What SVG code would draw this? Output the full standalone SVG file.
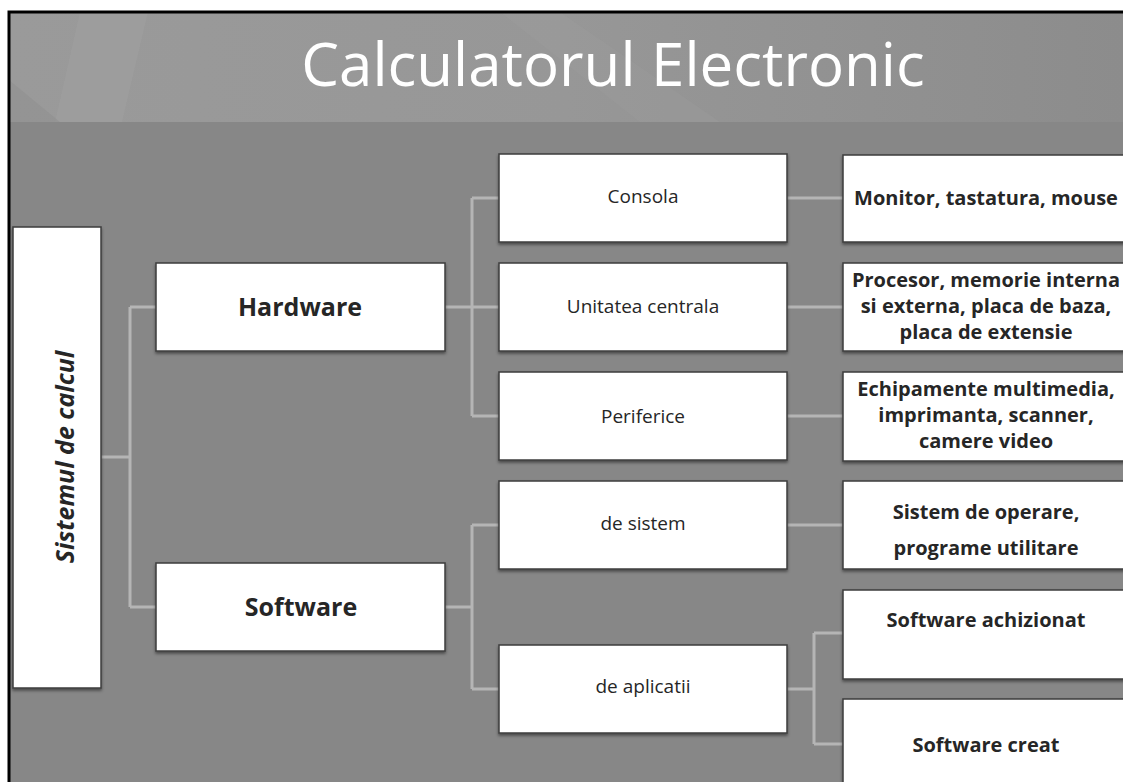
<svg xmlns="http://www.w3.org/2000/svg" width="1123" height="782" viewBox="0 0 1123 782">
<defs>
<linearGradient id="band" x1="0" y1="0" x2="1" y2="0">
<stop offset="0" stop-color="#9a9a9a"/>
<stop offset="0.5" stop-color="#979797"/>
<stop offset="1" stop-color="#8c8c8c"/>
</linearGradient>
<filter id="sh" x="-5%" y="-5%" width="110%" height="120%">
<feDropShadow dx="0" dy="2" stdDeviation="1.5" flood-color="#000" flood-opacity="0.45"/>
</filter>
<style>
.box{fill:#ffffff;stroke:#3c3c3c;stroke-width:1.5;filter:url(#sh)}
.con{fill:none;stroke:#b5b5b5;stroke-width:3}
.t1{font-family:"Open Sans","DejaVu Sans",sans-serif;font-weight:bold;font-size:25px;fill:#262626;text-anchor:middle}
.t2{font-family:"Open Sans","DejaVu Sans",sans-serif;font-size:19px;fill:#262626;text-anchor:middle}
.t3{font-family:"Open Sans","DejaVu Sans",sans-serif;font-weight:bold;font-size:20px;fill:#262626;text-anchor:middle}
</style>
</defs>
<rect x="0" y="0" width="1123" height="782" fill="#ffffff"/>
<rect x="9" y="12" width="1114" height="770" fill="#878787"/>
<rect x="9" y="12" width="1114" height="110" fill="url(#band)"/>
<polygon points="80,12 148,12 122,122 55,122" fill="#a2a2a2" opacity="0.4"/>
<polygon points="9,80 60,122 9,122" fill="#8e8e8e" opacity="0.5"/>
<polygon points="500,12 560,12 720,122 640,122" fill="#a0a0a0" opacity="0.25"/>
<path d="M9,782 V12 H1123" fill="none" stroke="#000" stroke-width="3"/>
<text x="613" y="86" font-family="'Open Sans','DejaVu Sans',sans-serif" font-size="60" fill="#ffffff" text-anchor="middle">Calculatorul Electronic</text>

<g id="connectors">
<path class="con" d="M101,457 H130 M130,307 V607 M130,307 H156 M130,607 H156"/>
<path class="con" d="M445,307 H472 M472,198 V416 M472,198 H499 M472,307 H499 M472,416 H499"/>
<path class="con" d="M445,607 H472 M472,525 V689 M472,525 H499 M472,689 H499"/>
<path class="con" d="M787,198 H843 M787,307 H843 M787,416 H843 M787,525 H843"/>
<path class="con" d="M787,689 H814 M814,633 V744 M814,633 H843 M814,744 H843"/>
</g>

<g id="sistemul">
<rect class="box" x="13" y="227" width="88" height="461"/>
<text class="t1" transform="translate(65,457) rotate(-90)" font-style="italic" font-size="26" y="9">Sistemul de calcul</text>
</g>
<g id="hardware">
<rect class="box" x="156" y="263" width="289" height="88"/>
<text class="t1" x="300" y="316">Hardware</text>
</g>
<g id="software">
<rect class="box" x="156" y="563" width="289" height="88"/>
<text class="t1" x="301" y="616">Software</text>
</g>

<g id="consola">
<rect class="box" x="499" y="154" width="288" height="88"/>
<text class="t2" x="643" y="203">Consola</text>
</g>
<g id="unitatea">
<rect class="box" x="499" y="263" width="288" height="88"/>
<text class="t2" x="643" y="313">Unitatea centrala</text>
</g>
<g id="periferice">
<rect class="box" x="499" y="372" width="288" height="88"/>
<text class="t2" x="643" y="423">Periferice</text>
</g>
<g id="desistem">
<rect class="box" x="499" y="481" width="288" height="88"/>
<text class="t2" x="643" y="530">de sistem</text>
</g>
<g id="deaplicatii">
<rect class="box" x="499" y="645" width="288" height="88"/>
<text class="t2" x="643" y="693">de aplicatii</text>
</g>

<g id="monitor">
<rect class="box" x="843" y="155" width="290" height="87"/>
<text class="t3" x="986" y="205">Monitor, tastatura, mouse</text>
</g>
<g id="procesor">
<rect class="box" x="843" y="263" width="290" height="88"/>
<text class="t3" x="986" y="287">Procesor, memorie interna</text>
<text class="t3" x="986" y="313">si externa, placa de baza,</text>
<text class="t3" x="986" y="339">placa de extensie</text>
</g>
<g id="echipamente">
<rect class="box" x="843" y="372" width="290" height="89"/>
<text class="t3" x="986" y="396">Echipamente multimedia,</text>
<text class="t3" x="986" y="422">imprimanta, scanner,</text>
<text class="t3" x="986" y="448">camere video</text>
</g>
<g id="sistemop">
<rect class="box" x="843" y="481" width="290" height="88"/>
<text class="t3" x="986" y="519">Sistem de operare,</text>
<text class="t3" x="986" y="555">programe utilitare</text>
</g>
<g id="achizionat">
<rect class="box" x="843" y="590" width="290" height="89"/>
<text class="t3" x="986" y="627">Software achizionat</text>
</g>
<g id="creat">
<rect class="box" x="843" y="699" width="290" height="100"/>
<text class="t3" x="986" y="752">Software creat</text>
</g>
</svg>
